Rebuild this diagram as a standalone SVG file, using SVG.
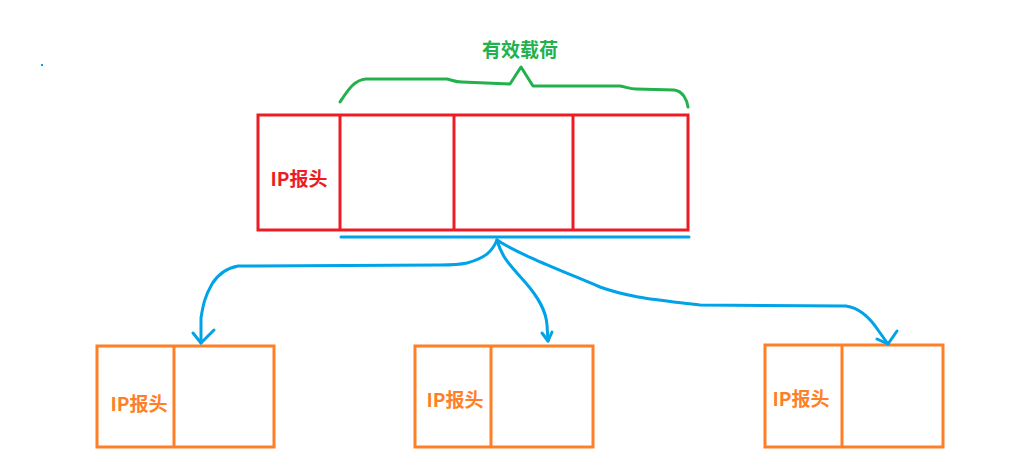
<svg xmlns="http://www.w3.org/2000/svg" width="1025" height="471" viewBox="0 0 1025 471">
<style>
.red{fill:none;stroke:#ED1C24;stroke-width:3}
.org{fill:none;stroke:#FF7F27;stroke-width:3}
.blue{fill:none;stroke:#00A2E8;stroke-width:3;stroke-linecap:round;stroke-linejoin:round}
.brace{fill:none;stroke:#22B14C;stroke-width:3;stroke-linecap:round;stroke-linejoin:round}
text{font-family:"Noto Sans CJK SC","Noto Sans",sans-serif;font-weight:bold;text-anchor:middle;dominant-baseline:central}
.tr{fill:#ED1C24;font-size:19px}
.to{fill:#FF7F27;font-size:19px}
.tg{fill:#22B14C;font-size:19px}
</style>
<rect width="1025" height="471" fill="#fff"/>
<rect x="41" y="64" width="2" height="2" fill="#00A2E8"/>
<g id="label">
<text class="tg" x="520" y="48">有效载荷</text>
<path class="brace" d="M340,102 C348,90 354,80 366,79 L447,79 C452,80 455,82 462,82 L510,84 L521,67 L533,86 L620,86 C626,87 630,89 636,89 L674,90 C683,91 687,100 688,107"/>
</g>
<g id="packet">
<rect class="red" x="258" y="115" width="430" height="115"/>
<line class="red" x1="340" y1="115" x2="340" y2="230"/>
<line class="red" x1="454" y1="115" x2="454" y2="230"/>
<line class="red" x1="573" y1="115" x2="573" y2="230"/>
<text class="tr" x="299" y="177">IP报头</text>
</g>
<g id="frag1">
<rect class="org" x="97" y="346" width="177" height="101"/>
<line class="org" x1="174" y1="346" x2="174" y2="447"/>
<text class="to" x="139" y="402">IP报头</text>
</g>
<g id="frag2">
<rect class="org" x="415" y="346" width="178" height="101"/>
<line class="org" x1="491" y1="346" x2="491" y2="447"/>
<text class="to" x="455" y="398">IP报头</text>
</g>
<g id="frag3">
<rect class="org" x="765" y="345" width="178" height="102"/>
<line class="org" x1="842" y1="345" x2="842" y2="447"/>
<text class="to" x="801" y="397">IP报头</text>
</g>
<g id="connectors">
<line class="blue" x1="341" y1="237" x2="689" y2="237"/>
<path class="blue" d="M497,240 C492,252 485,258 467,263 C458,265 450,265 440,265 L238,266 C228,268 218,274 212,284 C205,296 203,305 201,318 L201,343"/>
<path class="blue" d="M193,333 L201,343 L214,330"/>
<path class="blue" d="M497,240 C502,258 510,265 525,282 C538,297 546,310 547,325 L548,341"/>
<path class="blue" d="M542,333 L548,341 L552,332"/>
<path class="blue" d="M497,240 C520,255 560,270 600,287 C630,298 660,300 700,305 L846,306 C860,308 870,318 878,330 L888,344"/>
<path class="blue" d="M877,339 L888,344 L897,331"/>
</g>
</svg>
